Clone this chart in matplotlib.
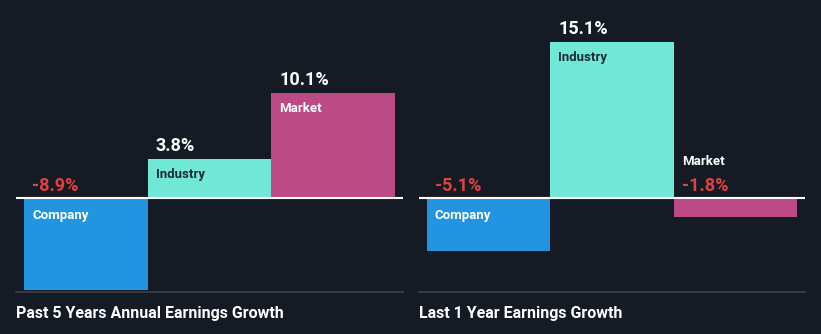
import matplotlib.pyplot as plt

# Earnings growth figures (%)
categories = ['Company', 'Industry', 'Market']
past_5y = [-8.9, 3.8, 10.1]
last_1y = [-5.1, 15.1, -1.8]
panel_titles = ['Past 5 Years Annual Earnings Growth', 'Last 1 Year Earnings Growth']

bg = '#151b25'
bar_colors = ['#2394df', '#71e8d6', '#bb4a85']
name_colors = ['white', '#1f2a36', 'white']
neg_color = '#e5403f'

plt.rcParams['font.family'] = ['Roboto', 'DejaVu Sans']

W, H = 821, 334
fig = plt.figure(figsize=(W / 100, H / 100), dpi=100, facecolor=bg)

# axes placed in pixel units: left edge, width
panels = [(16, 387), (419, 386)]
px_per_pct = 10.35
zero_from_top = 198
ax_h = 292

for (left, width), values, title in zip(panels, [past_5y, last_1y], panel_titles):
    ax = fig.add_axes([left / W, (H - ax_h) / H, width / W, ax_h / H])
    ax.set_facecolor(bg)
    pad = 8 / 123.5
    ax.set_xlim(-0.5 - pad, 2.5 + pad)
    ax.set_ylim(-(ax_h - zero_from_top) / px_per_pct, zero_from_top / px_per_pct)

    x = range(len(values))
    ax.bar(x, values, width=1.0, color=bar_colors, linewidth=0)
    ax.axhline(0, color='white', lw=1.5, zorder=3)

    for spine in ['top', 'left', 'right']:
        ax.spines[spine].set_visible(False)
    ax.spines['bottom'].set_color('#3b4049')
    ax.spines['bottom'].set_linewidth(1.2)
    ax.set_xticks([])
    ax.set_yticks([])

    for i, v in enumerate(values):
        xl = i - 0.5
        label = f'{v:.1f}%'
        if v >= 0:
            ax.annotate(label, (xl, v), xytext=(8, 8), textcoords='offset pixels',
                        color='white', fontsize=13, fontweight='semibold', va='baseline')
            ax.annotate(categories[i], (xl, v), xytext=(8, -9), textcoords='offset pixels',
                        color=name_colors[i], fontsize=9.5, fontweight='bold', va='top')
        else:
            ax.annotate(label, (xl, 0), xytext=(8, 7), textcoords='offset pixels',
                        color=neg_color, fontsize=13, fontweight='semibold', va='baseline')
            if -v * px_per_pct > 30:
                ax.annotate(categories[i], (xl, 0), xytext=(8, -11), textcoords='offset pixels',
                            color='white', fontsize=9.5, fontweight='bold', va='top')
            else:
                ax.annotate(categories[i], (xl, 0), xytext=(8, 33), textcoords='offset pixels',
                            color='white', fontsize=9.5, fontweight='bold', va='baseline')

    fig.text(left / W, (H - 318) / H, title, color='white', fontsize=11.5,
             fontweight='bold', va='baseline')

fig.savefig('out.png', dpi=100, facecolor=bg)
